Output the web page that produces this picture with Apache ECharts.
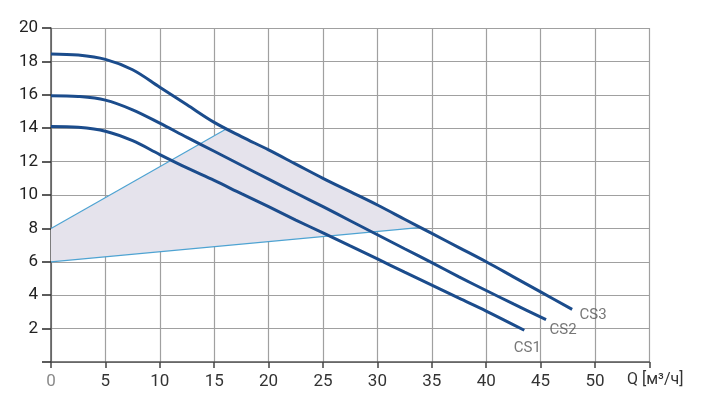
<!DOCTYPE html>
<html><head><meta charset="utf-8">
<script src="https://cdn.jsdelivr.net/npm/echarts@6/dist/echarts.min.js"></script>
<style>html,body{margin:0;padding:0;background:#fff}#c{width:702px;height:410px}</style>
</head><body><div id="c"></div>
<script>
// Data
const xTicks = [0,5,10,15,20,25,30,35,40,45,50];
const yTicks = [2,4,6,8,10,12,14,16,18,20];
const cs1 = [[0,14.1],[2.5,14.05],[5,13.82],[7.5,13.25],[10,12.42],[12.5,11.62],[15,10.87],[17.5,10.08],[20,9.3],[22.5,8.5],[25,7.73],[27.5,6.95],[30,6.17],[32.5,5.38],[35,4.6],[37.5,3.82],[40,3.05],[43.5,1.9]];
const cs2 = [[0,15.95],[2.5,15.9],[5,15.68],[7.5,15.1],[10,14.3],[12.5,13.45],[15,12.62],[17.5,11.78],[20,10.95],[22.5,10.12],[25,9.3],[27.5,8.46],[30,7.62],[32.5,6.78],[35,5.95],[37.5,5.1],[40,4.28],[42.5,3.48],[45.5,2.54]];
const cs3 = [[0,18.45],[2.5,18.38],[5,18.12],[7.5,17.5],[10,16.45],[12.5,15.4],[15,14.35],[17.5,13.5],[20,12.7],[22.5,11.85],[25,11.0],[27.5,10.2],[30,9.4],[32.5,8.55],[35,7.7],[37.5,6.85],[40,6.0],[42.5,5.1],[45,4.2],[47.9,3.15]];
const upperBound = [[0,8],[16.1,13.95]];
const lowerBound = [[0,6],[33.8,8.05]];
const zoneEdge = [[16.1,13.95],[17.5,13.5],[20,12.7],[22.5,11.85],[25,11.0],[27.5,10.2],[30,9.4],[32.5,8.55],[33.8,8.05]];
const zonePolygon = [[0,6],[0,8]].concat(zoneEdge);
const curveNames = ['CS1','CS2','CS3'];
const axisTitle = 'Q [м³/ч]';

const chart = echarts.init(document.getElementById('c'));
const font = 'Roboto, "Liberation Sans", sans-serif';
const navy = '#1b4c8c';
const lightBlue = '#4ea3d2';
const curves = [cs1, cs2, cs3];
const labelOffsets = [[3,18],[17,11],[21,6]];

const series = [
  {
    type: 'custom',
    silent: true,
    z: 1,
    data: [0],
    renderItem: function (params, api) {
      const pts = zonePolygon.map(p => api.coord(p));
      return { type: 'polygon', shape: { points: pts }, style: { fill: '#e5e3ec' } };
    }
  },
  { type: 'line', data: upperBound, symbol: 'none', z: 2, lineStyle: { color: lightBlue, width: 1.2 } },
  { type: 'line', data: lowerBound, symbol: 'none', z: 2, lineStyle: { color: lightBlue, width: 1.2 } }
];
curves.forEach((d, i) => {
  series.push({
    type: 'line', name: curveNames[i], data: d, smooth: 0.35, symbol: 'none', z: 3,
    lineStyle: { color: navy, width: 3 }
  });
  series.push({
    type: 'scatter', data: [d[d.length - 1]], symbolSize: 0, z: 4, silent: true,
    label: {
      show: true, formatter: curveNames[i], position: 'inside',
      offset: labelOffsets[i], color: '#555', fontSize: 15, fontFamily: font
    }
  });
});

chart.setOption({
  animation: false,
  grid: { left: 51, right: 52.6, top: 28, bottom: 48 },
  xAxis: {
    type: 'value', min: 0, max: 55, interval: 5,
    axisLine: { lineStyle: { color: '#555', width: 1.5 } },
    axisTick: { show: true, length: 6, lineStyle: { color: '#444', width: 1.5 } },
    axisLabel: {
      margin: 11, fontSize: 17, fontFamily: font,
      color: function (v) { return Number(v) === 0 ? '#8a8a8a' : '#333'; },
      formatter: function (v) { return xTicks.indexOf(v) >= 0 ? String(v) : ''; }
    },
    splitLine: { show: true, lineStyle: { color: '#a0a0a0', width: 1.2 } }
  },
  yAxis: {
    type: 'value', min: 0, max: 20, interval: 2,
    axisLine: { show: true, onZero: false, lineStyle: { color: '#555', width: 1.5 } },
    axisTick: { show: true, inside: false, length: 9, lineStyle: { color: '#333', width: 1.6 } },
    axisLabel: {
      margin: 13, fontSize: 17, fontFamily: font, color: '#222',
      formatter: function (v) { return yTicks.indexOf(v) >= 0 ? String(v) : ''; }
    },
    splitLine: { show: true, lineStyle: { color: '#a0a0a0', width: 1.2 } }
  },
  graphic: [{
    type: 'text', left: 627, top: 372,
    style: { text: axisTitle, fontSize: 16, fontFamily: font, fill: '#333' }
  }],
  series: series
});
</script></body></html>
